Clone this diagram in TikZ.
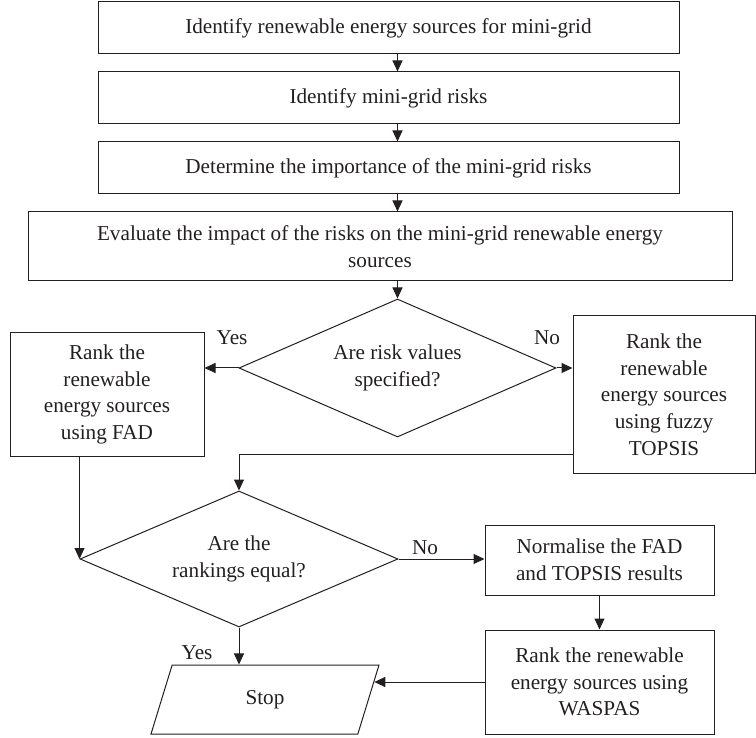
\documentclass[tikz,border=0pt]{standalone}
\usepackage{fontspec}
\setmainfont{Liberation Serif}
\usetikzlibrary{shapes.geometric,arrows.meta,calc}
\definecolor{ink}{HTML}{231F20}

\begin{document}
\begin{tikzpicture}[x=1pt,y=-1pt,
	font=\fontsize{21.2}{26.7}\selectfont,
	every node/.style={text=ink},
	stepbox/.style={draw=ink,line width=1pt,align=center,inner sep=2pt},
	decision/.style={diamond,aspect=2.3,draw=ink,line width=1pt,align=center,inner sep=0pt},
	flow/.style={draw=ink,line width=1pt,-{Triangle[length=11pt,width=10pt]}}]
	\useasboundingbox (0,0) rectangle (756,738);
	
	% steps down the top
	\node[stepbox,minimum width=581pt,minimum height=52pt] (sources) at (388.5,28) {Identify renewable energy sources for mini-grid};
	\node[stepbox,minimum width=581pt,minimum height=52pt] (risks) at (388.5,98) {Identify mini-grid risks};
	\node[stepbox,minimum width=581pt,minimum height=52pt] (importance) at (388.5,168) {Determine the importance of the mini-grid risks};
	\node[stepbox,minimum width=704pt,minimum height=69pt] (impact) at (380,246.5) {Evaluate the impact of the risks on the mini-grid renewable energy\\sources};
	
	% first decision
	\node[decision,minimum width=317pt,minimum height=138pt] (specified) at (397.5,368) {Are risk values\\specified?};
	\node[stepbox,minimum width=194pt,minimum height=123pt] (fad) at (107,394.5) {Rank the\\renewable\\energy sources\\using FAD};
	\node[stepbox,minimum width=182pt,minimum height=157pt] (topsis) at (664,394.5) {Rank the\\renewable\\energy sources\\using fuzzy\\TOPSIS};
	
	% second decision
	\node[decision,minimum width=318pt,minimum height=136pt] (equal) at (239,559) {Are the\\rankings equal?};
	\node[stepbox,minimum width=229pt,minimum height=70pt] (norm) at (599.5,560) {Normalise the FAD\\and TOPSIS results};
	\node[stepbox,minimum width=229pt,minimum height=104pt] (waspas) at (599.5,682) {Rank the renewable\\energy sources using\\WASPAS};
	\node[trapezium,trapezium left angle=50,trapezium right angle=130,trapezium stretches body,
		draw=ink,line width=1pt,minimum width=228pt,minimum height=69pt] (stop) at (265,699.5) {Stop};
	
	% connectors
	\draw[flow] (specified.north |- sources.south) -- (specified.north |- risks.north);
	\draw[flow] (specified.north |- risks.south) -- (specified.north |- importance.north);
	\draw[flow] (specified.north |- importance.south) -- (specified.north |- impact.north);
	\draw[flow] (specified.north |- impact.south) -- (specified.north);
	\draw[flow] (specified.west) -- (specified.west -| fad.east);
	\draw[flow] (specified.east) -- (specified.east -| topsis.west);
	\draw[flow] ([yshift=19pt]topsis.south west) -| (equal.north);
	\draw[flow] (equal.west |- fad.south) -- (equal.west);
	\draw[flow] (equal.east) -- (equal.east -| norm.west);
	\draw[flow] (norm) -- (waspas);
	\draw[flow] (waspas.west) -- ($(stop.top right corner)!0.25!(stop.bottom right corner)$);
	\draw[flow] (equal.south) -- (equal.south |- stop.north);
	
	% branch labels
	\node (yesfad) at (232,338) {Yes};
	\node (nofuzzy) at (547,338) {No};
	\node (nonorm) at (425,548) {No};
	\node (yesstop) at (197,653) {Yes};
\end{tikzpicture}
\end{document}
